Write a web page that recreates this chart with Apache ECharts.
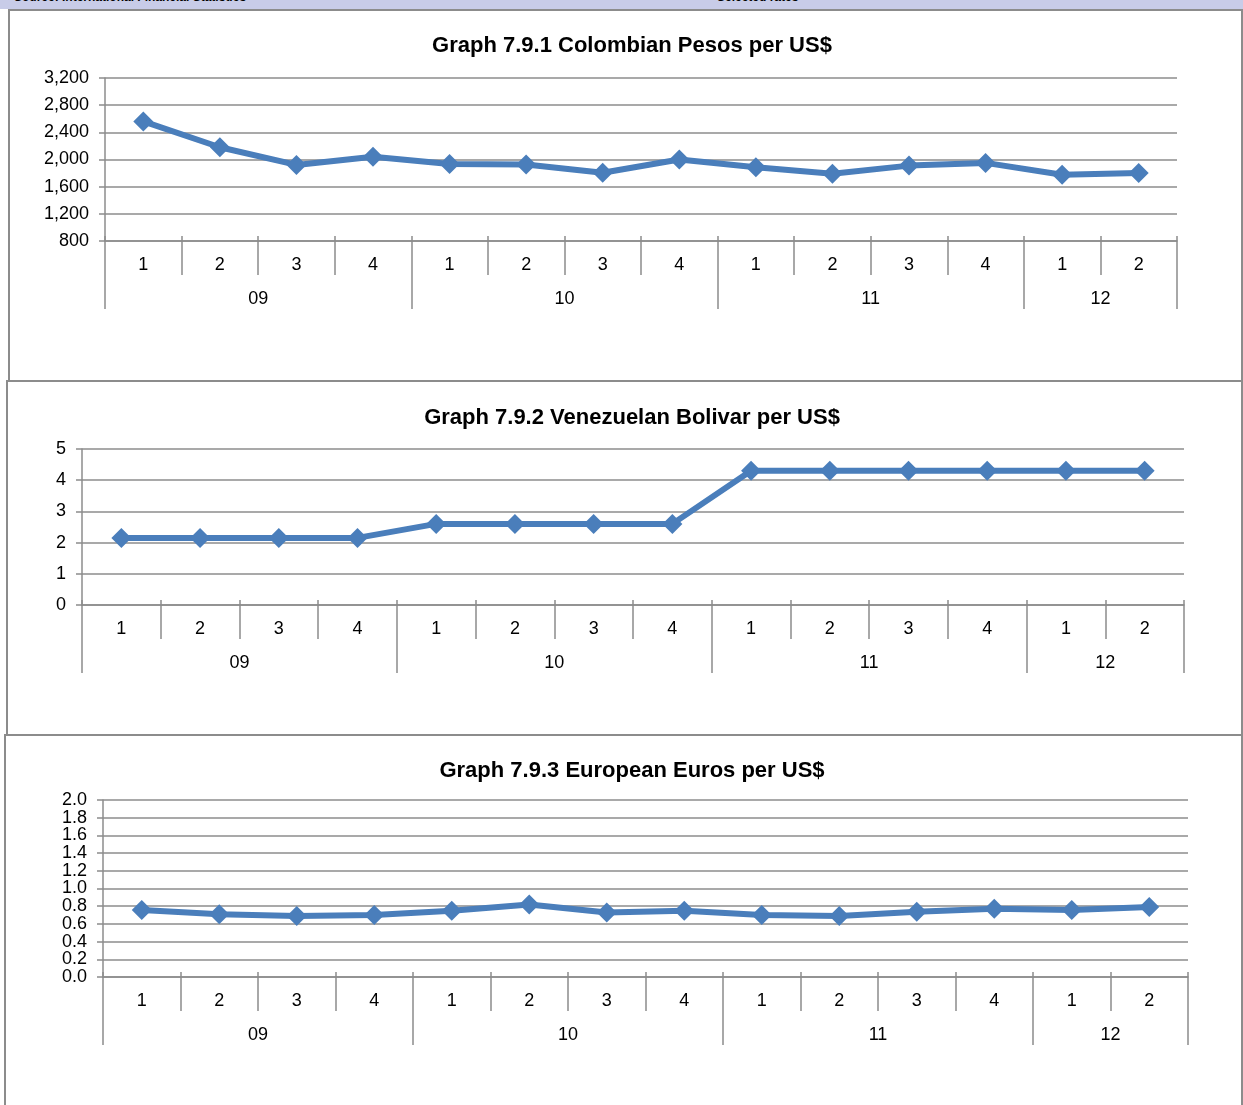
<!DOCTYPE html>
<html>
<head>
<meta charset="utf-8">
<title>Graph 7.9 Exchange rates</title>
<script src="https://cdn.jsdelivr.net/npm/echarts@6/dist/echarts.min.js"></script>
<style>
  html, body { margin: 0; padding: 0; background: #fff; overflow: hidden; }
  body { width: 1243px; height: 1105px; position: relative; font-family: "Liberation Sans", Arial, sans-serif; }
  .strip { position: absolute; left: 0; top: 0; width: 1243px; height: 9px; background: #c8cce8; overflow: hidden; }
  .strip span { position: absolute; top: -10px; font-size: 12px; font-weight: bold; color: #000; }
  .panel { position: absolute; box-sizing: border-box; border: 2px solid #8c8c8c; background: #fff; }
  #chart { position: absolute; left: 0; top: 0; width: 1243px; height: 1105px; }
</style>
</head>
<body>
<div class="strip"><span style="left:14px">Source: International Financial Statistics</span><span style="left:717px">Selected rates</span></div>
<div class="panel" style="left:8px;top:9px;width:1235px;height:373px"></div>
<div class="panel" style="left:6px;top:380px;width:1237px;height:356px"></div>
<div class="panel" style="left:4px;top:734px;width:1239px;height:380px"></div>
<div id="chart"></div>
<script>
// quarters on the lower axis, years below them
var quarters = ["1", "2", "3", "4", "1", "2", "3", "4", "1", "2", "3", "4", "1", "2"];
var years = ["09", "10", "11", "12"];
var quartersPerYear = [4, 4, 4, 2];

var titles = [
  "Graph 7.9.1 Colombian Pesos per US$",
  "Graph 7.9.2 Venezuelan Bolivar per US$",
  "Graph 7.9.3 European Euros per US$"
];

var colombia = [2560, 2180, 1920, 2040, 1935, 1925, 1805, 2000, 1885, 1790, 1910, 1950, 1775, 1800];
var venezuela = [2.15, 2.15, 2.15, 2.15, 2.6, 2.6, 2.6, 2.6, 4.3, 4.3, 4.3, 4.3, 4.3, 4.3];
var euro = [0.757, 0.71, 0.69, 0.70, 0.748, 0.82, 0.728, 0.748, 0.70, 0.69, 0.736, 0.77, 0.757, 0.79];

// y tick values
var colombiaTicks = [800, 1200, 1600, 2000, 2400, 2800, 3200];
var venezuelaTicks = [0, 1, 2, 3, 4, 5];
var euroTicks = [0, 0.2, 0.4, 0.6, 0.8, 1.0, 1.2, 1.4, 1.6, 1.8, 2.0];

// year boundaries and centres in quarter units
var yearEdges = [0];
var yearCenters = [];
quartersPerYear.forEach(function (n) {
  var start = yearEdges[yearEdges.length - 1];
  yearCenters.push(start + n / 2);
  yearEdges.push(start + n);
});

var gray = "#8c8c8c";
var blue = "#4a7ebb";
var font = "Liberation Sans";

var layouts = [
  { left: 105, top: 78, width: 1072, height: 163, titleTop: 35, ticks: colombiaTicks,
    fmt: function (v) { return v.toLocaleString("en-US"); } },
  { left: 82, top: 449, width: 1102, height: 156, titleTop: 407, ticks: venezuelaTicks,
    fmt: function (v) { return String(Math.round(v)); } },
  { left: 103, top: 800, width: 1085, height: 177, titleTop: 760, ticks: euroTicks,
    fmt: function (v) { return v.toFixed(1); } }
];
var seriesData = [colombia, venezuela, euro];

var option = { animation: false, title: [], grid: [], xAxis: [], yAxis: [], series: [] };

layouts.forEach(function (L, i) {
  var ymin = L.ticks[0];
  var ymax = L.ticks[L.ticks.length - 1];
  var yint = L.ticks[1] - L.ticks[0];

  option.title.push({
    text: titles[i], left: 632, top: L.titleTop, textAlign: "center", padding: 0,
    textStyle: { fontFamily: font, fontSize: 22, fontWeight: "bold", color: "#000" }
  });
  option.grid.push({ left: L.left, top: L.top, width: L.width, height: L.height });

  // quarter axis with long ticks below
  option.xAxis.push({
    type: "category", gridIndex: i, data: quarters, boundaryGap: true,
    axisLine: { show: true, lineStyle: { color: gray, width: 1.5 } },
    axisTick: { show: true, interval: 0, length: 34, lineStyle: { color: gray, width: 1.5 } },
    axisLabel: { interval: 0, margin: 15, color: "#000", fontFamily: font, fontSize: 18 },
    splitLine: { show: false }
  });
  // short ticks poking above the axis
  option.xAxis.push({
    type: "category", gridIndex: i, data: quarters, boundaryGap: true, position: "bottom",
    axisLine: { show: false },
    axisTick: { show: true, inside: true, interval: 0, length: 5, lineStyle: { color: gray, width: 1.5 } },
    axisLabel: { show: false }, splitLine: { show: false }
  });
  // year axis
  option.xAxis.push({
    type: "value", gridIndex: i, min: 0, max: quarters.length, position: "bottom",
    axisLine: { show: false },
    axisTick: { show: true, length: 68, customValues: yearEdges, lineStyle: { color: gray, width: 1.5 } },
    axisLabel: {
      show: true, margin: 49, customValues: yearCenters, color: "#000", fontFamily: font, fontSize: 18,
      formatter: function (v) { return years[yearCenters.indexOf(v)]; }
    },
    splitLine: { show: false }
  });

  // main y axis: line, ticks, grid lines
  option.yAxis.push({
    type: "value", gridIndex: i, min: ymin, max: ymax, interval: yint, position: "left",
    axisLine: { show: true, lineStyle: { color: gray, width: 1.5 } },
    axisTick: { show: true, length: 6, lineStyle: { color: gray, width: 1.5 } },
    axisLabel: { show: false },
    splitLine: { show: true, lineStyle: { color: gray, width: 1.5 } }
  });
  // labels split in two passes so crowded ones are not dropped
  [0, 1].forEach(function (parity) {
    option.yAxis.push({
      type: "value", gridIndex: i, min: ymin, max: ymax, position: "left", offset: 0,
      axisLine: { show: false }, axisTick: { show: false }, splitLine: { show: false },
      axisLabel: {
        margin: 16, color: "#000", fontFamily: font, fontSize: 18, formatter: L.fmt,
        customValues: L.ticks.filter(function (t, k) { return k % 2 === parity; })
      }
    });
  });

  option.series.push({
    type: "line", xAxisIndex: i * 3, yAxisIndex: i * 3, data: seriesData[i],
    symbol: "diamond", symbolSize: 20, showSymbol: true,
    lineStyle: { color: blue, width: 6 },
    itemStyle: { color: blue, borderColor: blue, borderWidth: 0 }
  });
});

var chart = echarts.init(document.getElementById("chart"), null, { renderer: "canvas" });
chart.setOption(option);
</script>
</body>
</html>
